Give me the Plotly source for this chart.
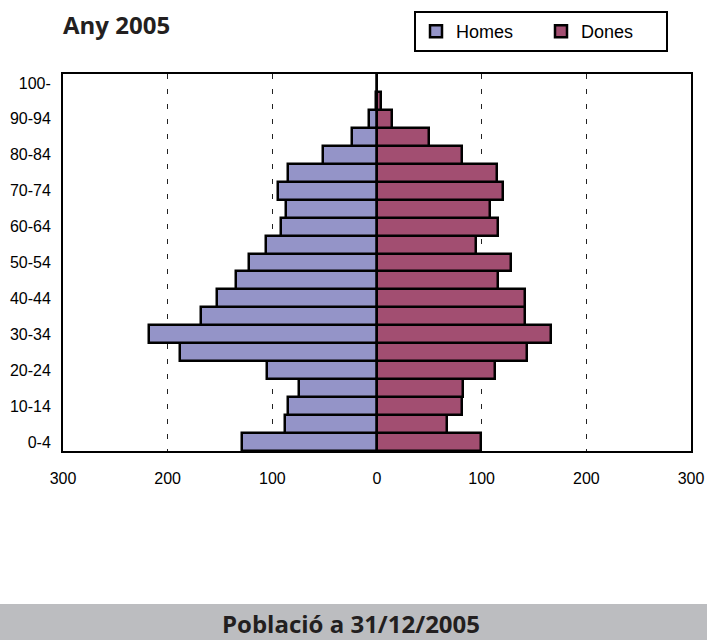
import plotly.graph_objects as go

# age groups, bottom to top
AGES = ["0-4", "5-9", "10-14", "15-19", "20-24", "25-29", "30-34", "35-39",
        "40-44", "45-49", "50-54", "55-59", "60-64", "65-69", "70-74", "75-79",
        "80-84", "85-89", "90-94", "95-99", "100-"]
HOMES = [129, 88, 85, 75, 105, 188, 218, 168, 153, 135, 122, 106, 92, 87,
         95, 85, 52, 24, 8, 1, 0]
DONES = [99, 67, 81, 82, 113, 143, 166, 141, 141, 116, 128, 95, 116, 108,
         120, 115, 81, 50, 14, 4, 0]
TICKS = [-300, -200, -100, 0, 100, 200, 300]

HOMES_COLOR = "#9494C8"
DONES_COLOR = "#A24E71"

fig = go.Figure()
fig.add_trace(go.Bar(
    y=AGES, x=[-v for v in HOMES], customdata=HOMES, orientation="h",
    name="Homes", marker=dict(color=HOMES_COLOR, line=dict(color="black", width=2.5)),
    hovertemplate="%{y}: %{customdata}<extra>Homes</extra>",
))
fig.add_trace(go.Bar(
    y=AGES, x=DONES, orientation="h",
    name="Dones", marker=dict(color=DONES_COLOR, line=dict(color="black", width=2.5)),
    hovertemplate="%{y}: %{x}<extra>Dones</extra>",
))

fig.update_layout(
    width=707, height=640,
    margin=dict(l=63, r=16, t=74, b=189, autoexpand=False),
    paper_bgcolor="white", plot_bgcolor="white",
    barmode="overlay", bargap=0,
    font=dict(family="Liberation Sans", size=16, color="black"),
    title=dict(text="<b>Any 2005</b>", x=0, xref="paper", xanchor="left",
               y=1 - 26 / 640, yanchor="middle",
               font=dict(family="Open Sans", size=24, color="#231F20")),
    legend=dict(orientation="h", xref="container", x=414 / 707, xanchor="left",
                yref="container", y=1 - 11 / 640, yanchor="top",
                bordercolor="black", borderwidth=2, bgcolor="white",
                font=dict(size=18), itemwidth=30, entrywidth=80,
                entrywidthmode="pixels", traceorder="normal"),
    showlegend=True,
)

fig.update_xaxes(
    range=[-300, 300], tickvals=TICKS, ticktext=[str(abs(t)) for t in TICKS],
    showgrid=True, gridcolor="#222222", gridwidth=1, griddash="5px,10px",
    zeroline=True, zerolinecolor="#888888", zerolinewidth=1,
    showline=True, linecolor="black", linewidth=2, mirror=True,
    ticks="", ticklabelstandoff=12, fixedrange=True, automargin=False,
)
fig.update_yaxes(
    categoryorder="array", categoryarray=AGES,
    tickvals=AGES[::2], ticktext=AGES[::2],
    showgrid=False, showline=True, linecolor="black", linewidth=2, mirror=True,
    ticks="", ticklabelstandoff=7, fixedrange=True, automargin=False,
)

# grey footer band with caption
fig.add_shape(type="rect", xref="paper", yref="paper",
              x0=-63 / 628, x1=1 + 16 / 628, y0=(451 - 641) / 377, y1=(451 - 604) / 377,
              fillcolor="#BCBDC0", line=dict(width=0), layer="below")
fig.add_annotation(text="<b>Població a 31/12/2005</b>", xref="paper", yref="paper",
                   x=(351 - 63) / 628, y=(451 - 623) / 377, showarrow=False,
                   xanchor="center", yanchor="middle",
                   font=dict(family="Open Sans", size=24, color="#231F20"))

# drop the browser's default body margin so the figure sits at the page corner
fig.write_html("out.html", config={"displayModeBar": False},
               post_script="document.body.style.margin = '0';")
